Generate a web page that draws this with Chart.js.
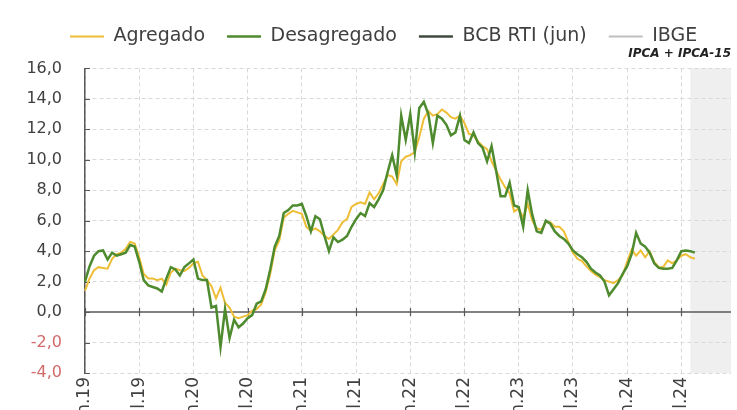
<!DOCTYPE html>
<html lang="pt-BR">
<head>
<meta charset="utf-8">
<title>Inflação: agregado x desagregado</title>
<script src="https://cdn.jsdelivr.net/npm/chart.js@4.4.1/dist/chart.umd.min.js"></script>
<style>
  html, body { margin: 0; padding: 0; width: 737px; height: 410px; overflow: hidden; background: #fff; }
  /* canvas is a bit taller than the page: the month labels run off the bottom edge */
  #wrap { position: relative; width: 737px; height: 450px; }
</style>
</head>
<body>
<div id="wrap"><canvas id="chart"></canvas></div>
<script>
/* ---------- DATA ---------- */
const months = ['jan', 'fev', 'mar', 'abr', 'mai', 'jun', 'jul', 'ago', 'set', 'out', 'nov', 'dez'];
const years = ['19', '20', '21', '22', '23', '24'];

// two readings per month (IPCA-15 and IPCA), so each month appears twice
const periods = [];
years.forEach(y => months.forEach(m => { periods.push(m + '.' + y); periods.push(m + '.' + y); }));

const tickEvery = 12;      // one label every six months
const forecastFrom = 134;  // shaded stretch at the end of the axis

const agregado = [
  1.4, 2.2, 2.75, 2.95, 2.9, 2.85, 3.5, 3.8, 3.9, 4.15, 4.6, 4.5,
  3.6, 2.5, 2.2, 2.2, 2.1, 2.2, 1.8, 2.6, 2.85, 2.75, 2.7, 2.9,
  3.2, 3.3, 2.4, 2.1, 1.7, 0.9, 1.6, 0.6, 0.3, -0.3, -0.4, -0.3,
  -0.2, 0.1, 0.2, 0.5, 1.3, 2.5, 4.05, 4.7, 6.2, 6.45, 6.65, 6.55,
  6.45, 5.6, 5.35, 5.5, 5.3, 5.0, 4.8, 5.1, 5.4, 5.9, 6.1, 6.9,
  7.1, 7.2, 7.1, 7.85, 7.4, 7.8, 8.4, 9.0, 8.9, 8.4, 9.9, 10.2,
  10.3, 10.5, 11.5, 12.7, 13.2, 12.9, 13.0, 13.3, 13.1, 12.8, 12.7, 12.9,
  12.4, 11.7, 11.6, 11.2, 10.9, 10.7, 9.9, 9.3, 8.7, 8.2, 7.8, 6.6,
  6.8, 6.2, 7.1, 6.0, 5.5, 5.4, 5.9, 5.9, 5.6, 5.6, 5.3, 4.6,
  3.9, 3.5, 3.35, 3.0, 2.7, 2.45, 2.3, 2.1, 2.0, 1.9, 2.1, 2.4,
  3.3, 4.1, 3.7, 4.05, 3.6, 4.0, 3.3, 2.95, 2.95, 3.4, 3.2, 3.4,
  3.7, 3.8, 3.6, 3.5
];

const desagregado = [
  2.0, 3.0, 3.7, 4.0, 4.05, 3.45, 3.9, 3.7, 3.8, 3.9, 4.4, 4.3,
  3.3, 2.1, 1.75, 1.65, 1.55, 1.35, 2.2, 2.95, 2.8, 2.4, 2.95, 3.2,
  3.45, 2.2, 2.1, 2.1, 0.3, 0.4, -2.3, 0.2, -1.7, -0.5, -1.0, -0.75,
  -0.4, -0.2, 0.55, 0.7, 1.5, 2.8, 4.3, 5.0, 6.5, 6.7, 7.0, 7.0,
  7.1, 6.3, 5.3, 6.3, 6.1, 5.0, 4.0, 4.9, 4.6, 4.75, 5.0, 5.6,
  6.1, 6.5, 6.3, 7.15, 6.9, 7.4, 8.0, 9.2, 10.3, 9.0, 12.9, 11.3,
  13.0, 10.5, 13.4, 13.8, 13.0, 11.1, 12.9, 12.7, 12.3, 11.6, 11.8, 12.9,
  11.3, 11.1, 11.8, 11.1, 10.8, 9.9, 10.9, 9.3, 7.6, 7.6, 8.5, 7.0,
  6.9, 5.6, 8.0, 6.4, 5.3, 5.2, 6.0, 5.8, 5.3, 5.0, 4.8, 4.5,
  4.05, 3.8, 3.6, 3.3, 2.85, 2.6, 2.4, 2.0, 1.1, 1.5, 1.9, 2.5,
  3.0, 3.8, 5.2, 4.5, 4.3, 3.9, 3.2, 2.9, 2.85, 2.85, 2.9, 3.4,
  4.0, 4.05, 4.0, 3.9
];

const bcbRti = [];
const ibge = [];

/* ---------- PLUGIN: shaded end, zero line, inner tick marks ---------- */
const frame = {
  id: 'frame',
  afterLayout(chart) {
    // start the legend row a little in from the left edge
    chart.legend.left = 48;
  },
  beforeDraw(chart) {
    const { ctx, chartArea: a, scales: { x } } = chart;
    const x0 = x.getPixelForValue(forecastFrom);
    ctx.save();
    ctx.fillStyle = '#EFEFEF';
    ctx.fillRect(x0, a.top, a.right - x0, a.bottom - a.top);
    ctx.restore();
  },
  beforeDatasetsDraw(chart) {
    const { ctx, chartArea: a, scales: { x, y } } = chart;
    const y0 = y.getPixelForValue(0);
    ctx.save();
    ctx.strokeStyle = '#595959';
    ctx.lineWidth = 1.5;
    ctx.beginPath();
    ctx.moveTo(a.left, y0);
    ctx.lineTo(a.right, y0);
    ctx.stroke();

    ctx.lineWidth = 1.2;
    ctx.beginPath();
    for (let i = 0; i < periods.length; i += tickEvery) {
      const px = Math.round(x.getPixelForValue(i)) + 0.5;
      ctx.moveTo(px, y0 - 4);
      ctx.lineTo(px, y0 + 4);
    }
    y.ticks.forEach(t => {
      const py = Math.round(y.getPixelForValue(t.value)) + 0.5;
      ctx.moveTo(a.left, py);
      ctx.lineTo(a.left + 5, py);
    });
    ctx.stroke();
    ctx.restore();
  }
};

/* ---------- CHART ---------- */
Chart.defaults.font.family = "'DejaVu Sans', sans-serif";
Chart.defaults.color = '#404040';

new Chart(document.getElementById('chart'), {
  type: 'line',
  data: {
    labels: periods,
    datasets: [
      { label: 'Agregado', data: agregado, borderColor: '#EEBE36', backgroundColor: '#EEBE36', borderWidth: 2, order: 2 },
      { label: 'Desagregado', data: desagregado, borderColor: '#4E8A2E', backgroundColor: '#4E8A2E', borderWidth: 2.5, order: 1 },
      { label: 'BCB RTI (jun)', data: bcbRti, borderColor: '#3F4A3F', backgroundColor: '#3F4A3F', borderWidth: 2.5, order: 3 },
      { label: 'IBGE', data: ibge, borderColor: '#BFBFBF', backgroundColor: '#BFBFBF', borderWidth: 2, order: 4 }
    ]
  },
  options: {
    responsive: true,
    maintainAspectRatio: false,
    animation: false,
    elements: { point: { radius: 0 }, line: { tension: 0 } },
    layout: { padding: { top: 5, left: 0, right: 6, bottom: 0 } },
    plugins: {
      tooltip: { enabled: false },
      legend: {
        position: 'top',
        align: 'start',
        labels: {
          usePointStyle: true,
          pointStyle: 'line',
          pointStyleWidth: 34,
          padding: 22,
          color: '#404040',
          font: { size: 19 },
          sort: (a, b) => a.datasetIndex - b.datasetIndex
        }
      },
      subtitle: {
        display: true,
        text: 'IPCA + IPCA-15',
        align: 'end',
        position: 'top',
        weight: 500,
        color: '#222',
        font: { size: 12, weight: 'bold', style: 'italic' },
        padding: { top: -9, bottom: 7 }
      }
    },
    scales: {
      x: {
        type: 'category',
        offset: false,
        grid: { color: '#D9D9D9', drawTicks: false },
        border: { display: false, dash: [4, 3] },
        ticks: {
          autoSkip: false,
          minRotation: 90,
          maxRotation: 90,
          padding: 4,
          color: '#404040',
          font: { size: 17 },
          callback(v, i) { return i % tickEvery === 0 ? this.getLabelForValue(v) : null; }
        },
        afterFit(s) { s.height = 77; }
      },
      y: {
        min: -4,
        max: 16,
        grid: {
          drawTicks: false,
          color: ctx => (ctx.tick && ctx.tick.value === 0 ? 'transparent' : '#D9D9D9')
        },
        border: { display: true, color: '#595959', width: 1.5, dash: [4, 3] },
        ticks: {
          stepSize: 2,
          padding: 23,
          font: { size: 16 },
          color: ctx => (ctx.tick && ctx.tick.value < 0 ? '#D26A6A' : '#404040'),
          callback: v => v.toFixed(1).replace('.', ',')
        },
        afterFit(s) { s.width = 85; }
      }
    }
  },
  plugins: [frame]
});
</script>
</body>
</html>
